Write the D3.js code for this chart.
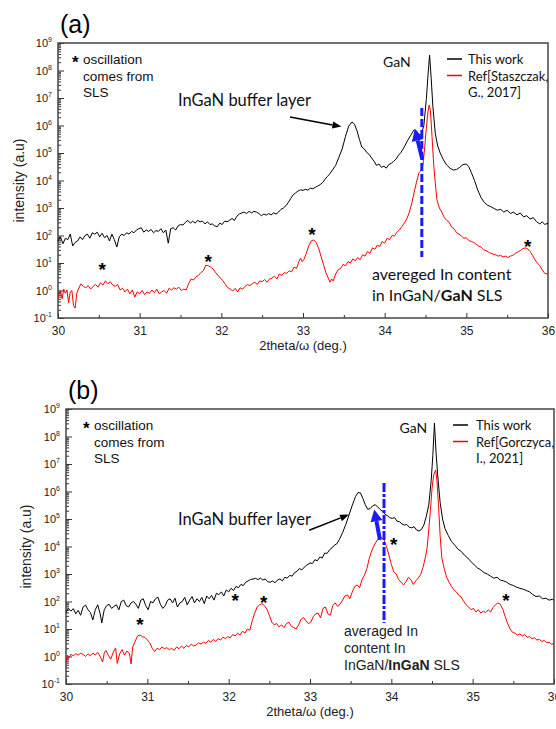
<!DOCTYPE html>
<html>
<head>
<meta charset="utf-8">
<script src="https://cdn.jsdelivr.net/npm/d3@7"></script>
<style>
  body { margin: 0; background: #fff; }
  text { font-family: "Liberation Sans", Arial, sans-serif; }
  .cal { font-family: Lato, "Open Sans", sans-serif; }
</style>
</head>
<body>
<div id="chart"></div>
<script>
// values are [2theta (deg), log10(intensity)]
var workA = [[30.00,1.80],[30.03,1.95],[30.06,1.70],[30.09,1.90],[30.12,1.85],[30.15,2.05],[30.18,1.62],[30.21,1.75],[30.24,1.80],[30.27,1.95],[30.30,1.85],[30.33,2.00],[30.36,2.05],[30.39,1.90],[30.42,2.10],[30.45,2.05],[30.48,2.12],[30.51,1.95],[30.54,2.08],[30.57,1.92],[30.60,2.00],[30.63,1.80],[30.66,2.05],[30.69,1.85],[30.72,1.58],[30.75,1.95],[30.78,2.05],[30.81,2.00],[30.84,2.10],[30.87,2.05],[30.90,2.15],[30.93,2.10],[30.96,2.20],[30.99,2.25],[31.02,2.28],[31.05,2.12],[31.08,2.20],[31.11,2.15],[31.14,2.22],[31.17,2.10],[31.20,2.18],[31.23,2.15],[31.26,2.25],[31.29,2.10],[31.32,2.20],[31.35,1.72],[31.38,2.25],[31.41,2.28],[31.44,2.20],[31.47,2.35],[31.50,2.40],[31.53,2.38],[31.56,2.48],[31.59,2.55],[31.62,2.45],[31.65,2.52],[31.68,2.45],[31.71,2.55],[31.74,2.50],[31.77,2.52],[31.80,2.42],[31.83,2.50],[31.86,2.40],[31.89,2.42],[31.92,2.35],[31.95,2.32],[31.98,2.45],[32.01,2.40],[32.04,2.52],[32.07,2.50],[32.10,2.55],[32.13,2.62],[32.16,2.55],[32.19,2.70],[32.22,2.78],[32.25,2.82],[32.28,2.85],[32.31,2.80],[32.34,2.88],[32.37,2.82],[32.40,2.88],[32.43,2.85],[32.46,2.80],[32.49,2.72],[32.52,2.78],[32.55,2.74],[32.58,2.80],[32.61,2.75],[32.64,2.82],[32.67,2.78],[32.70,2.85],[32.73,2.95],[32.76,3.00],[32.79,3.08],[32.82,3.20],[32.85,3.35],[32.88,3.48],[32.91,3.55],[32.94,3.62],[32.97,3.66],[33.00,3.64],[33.03,3.68],[33.06,3.65],[33.09,3.72],[33.12,3.70],[33.15,3.75],[33.18,3.80],[33.21,3.85],[33.24,3.92],[33.27,4.05],[33.30,4.15],[33.33,4.25],[33.36,4.38],[33.40,4.55],[33.44,4.85],[33.48,5.15],[33.52,5.60],[33.56,5.98],[33.60,6.13],[33.63,6.05],[33.66,5.82],[33.69,5.50],[33.72,5.22],[33.75,5.15],[33.78,5.02],[33.81,4.95],[33.84,4.82],[33.87,4.70],[33.90,4.55],[33.93,4.60],[33.96,4.48],[33.99,4.52],[34.02,4.45],[34.05,4.58],[34.08,4.62],[34.11,4.70],[34.14,4.78],[34.17,4.92],[34.20,5.02],[34.24,5.22],[34.28,5.45],[34.32,5.65],[34.36,5.84],[34.39,5.80],[34.42,5.65],[34.45,5.70],[34.48,6.00],[34.51,6.95],[34.53,7.80],[34.55,8.56],[34.57,7.70],[34.59,6.70],[34.62,5.70],[34.65,5.25],[34.68,5.00],[34.72,4.75],[34.76,4.56],[34.80,4.45],[34.84,4.38],[34.88,4.40],[34.92,4.48],[34.96,4.58],[35.00,4.60],[35.03,4.50],[35.06,4.30],[35.10,4.00],[35.14,3.65],[35.18,3.38],[35.22,3.20],[35.26,3.10],[35.30,3.05],[35.34,2.98],[35.38,2.92],[35.42,2.95],[35.46,2.85],[35.50,2.92],[35.54,2.80],[35.58,2.85],[35.62,2.75],[35.66,2.82],[35.70,2.68],[35.74,2.72],[35.78,2.60],[35.82,2.65],[35.86,2.50],[35.90,2.42],[35.93,2.50],[35.96,2.40],[36.00,2.45]];

var refA = [[30.00,-0.25],[30.03,0.00],[30.05,-0.30],[30.07,0.05],[30.09,-0.10],[30.11,0.02],[30.13,-0.45],[30.15,-0.05],[30.17,0.00],[30.19,-0.55],[30.21,-0.64],[30.23,-0.10],[30.25,0.05],[30.28,0.24],[30.31,0.15],[30.34,0.10],[30.37,0.18],[30.40,0.05],[30.43,0.15],[30.46,0.22],[30.49,0.12],[30.52,0.28],[30.55,0.20],[30.58,0.35],[30.61,0.25],[30.64,0.32],[30.67,0.20],[30.70,0.15],[30.73,0.22],[30.76,0.02],[30.79,0.08],[30.82,-0.05],[30.85,0.05],[30.88,-0.12],[30.91,0.02],[30.94,-0.24],[30.97,-0.05],[31.00,-0.12],[31.03,0.00],[31.06,-0.15],[31.09,-0.05],[31.12,-0.10],[31.15,0.02],[31.18,-0.08],[31.21,0.05],[31.24,-0.12],[31.27,-0.05],[31.30,0.00],[31.33,-0.10],[31.36,0.08],[31.39,0.02],[31.42,0.10],[31.45,0.05],[31.48,0.12],[31.51,0.00],[31.54,0.05],[31.57,0.02],[31.60,0.25],[31.63,0.42],[31.66,0.38],[31.69,0.50],[31.72,0.55],[31.75,0.65],[31.78,0.72],[31.81,0.92],[31.84,0.90],[31.87,0.85],[31.90,0.78],[31.93,0.65],[31.96,0.55],[31.99,0.45],[32.02,0.35],[32.05,0.22],[32.08,0.10],[32.11,0.05],[32.14,-0.02],[32.17,0.08],[32.20,-0.05],[32.23,0.10],[32.26,0.05],[32.29,0.15],[32.32,0.22],[32.35,0.18],[32.38,0.25],[32.41,0.30],[32.44,0.22],[32.47,0.35],[32.50,0.32],[32.53,0.40],[32.56,0.30],[32.59,0.42],[32.62,0.45],[32.65,0.52],[32.68,0.42],[32.71,0.60],[32.74,0.55],[32.77,0.65],[32.80,0.62],[32.83,0.72],[32.86,0.68],[32.89,0.85],[32.92,0.80],[32.95,1.05],[32.97,1.18],[32.99,1.05],[33.01,1.12],[33.04,1.35],[33.07,1.62],[33.10,1.80],[33.13,1.84],[33.16,1.75],[33.19,1.55],[33.22,1.25],[33.25,0.95],[33.28,0.65],[33.31,0.45],[33.33,0.30],[33.35,0.42],[33.37,0.35],[33.40,0.60],[33.43,0.75],[33.46,0.80],[33.49,0.95],[33.52,0.90],[33.55,1.05],[33.58,1.00],[33.61,1.15],[33.64,1.08],[33.67,1.20],[33.70,1.12],[33.73,1.30],[33.76,1.25],[33.79,1.42],[33.82,1.35],[33.85,1.55],[33.88,1.50],[33.91,1.65],[33.94,1.60],[33.97,1.78],[34.00,1.72],[34.03,1.90],[34.06,1.85],[34.09,2.00],[34.12,1.98],[34.15,2.12],[34.18,2.20],[34.21,2.32],[34.24,2.45],[34.27,2.60],[34.30,2.82],[34.33,3.15],[34.36,3.55],[34.39,3.95],[34.42,4.28],[34.45,4.38],[34.47,4.60],[34.49,5.20],[34.51,5.90],[34.53,6.50],[34.545,6.75],[34.56,6.55],[34.58,5.60],[34.60,4.60],[34.62,3.90],[34.64,3.30],[34.67,3.00],[34.70,2.85],[34.73,2.65],[34.76,2.55],[34.79,2.48],[34.82,2.30],[34.85,2.25],[34.88,2.10],[34.91,2.05],[34.94,1.98],[34.97,1.90],[35.00,1.92],[35.03,1.82],[35.06,1.78],[35.09,1.75],[35.12,1.68],[35.15,1.62],[35.18,1.58],[35.21,1.48],[35.24,1.45],[35.27,1.40],[35.30,1.35],[35.33,1.32],[35.36,1.30],[35.39,1.25],[35.42,1.28],[35.45,1.22],[35.48,1.25],[35.51,1.20],[35.54,1.25],[35.57,1.28],[35.60,1.35],[35.63,1.40],[35.66,1.45],[35.69,1.52],[35.72,1.55],[35.75,1.52],[35.78,1.42],[35.81,1.28],[35.84,1.12],[35.87,1.00],[35.90,0.90],[35.93,0.75],[35.96,0.62],[36.00,0.60]];

var workB = [[30.00,1.60],[30.03,1.75],[30.06,1.65],[30.09,1.74],[30.12,1.55],[30.15,1.68],[30.18,1.50],[30.21,1.80],[30.24,1.87],[30.27,1.70],[30.30,1.60],[30.33,1.33],[30.36,1.70],[30.39,1.88],[30.42,1.55],[30.44,1.22],[30.47,1.70],[30.50,1.85],[30.53,1.90],[30.56,1.75],[30.59,1.82],[30.62,1.88],[30.65,1.70],[30.68,2.00],[30.71,2.05],[30.74,1.85],[30.77,1.80],[30.80,1.95],[30.83,2.00],[30.86,1.90],[30.89,1.75],[30.92,2.05],[30.95,2.10],[30.98,1.85],[31.01,1.70],[31.04,2.00],[31.07,1.95],[31.10,2.10],[31.13,2.16],[31.16,1.90],[31.19,1.75],[31.22,1.85],[31.25,2.05],[31.28,2.10],[31.31,1.95],[31.34,2.12],[31.37,1.80],[31.40,1.95],[31.43,2.00],[31.46,2.15],[31.49,1.88],[31.52,2.05],[31.55,2.18],[31.58,1.95],[31.61,2.10],[31.64,2.00],[31.67,2.15],[31.70,1.92],[31.73,2.20],[31.76,2.10],[31.79,2.22],[31.82,2.05],[31.85,2.30],[31.88,2.25],[31.91,2.35],[31.94,2.20],[31.97,2.42],[32.00,2.35],[32.03,2.48],[32.06,2.40],[32.09,2.55],[32.12,2.50],[32.15,2.62],[32.18,2.58],[32.21,2.70],[32.24,2.75],[32.27,2.80],[32.30,2.82],[32.33,2.84],[32.36,2.80],[32.39,2.85],[32.42,2.78],[32.45,2.82],[32.48,2.72],[32.51,2.70],[32.54,2.75],[32.57,2.68],[32.60,2.78],[32.63,2.82],[32.66,2.75],[32.69,2.88],[32.72,2.85],[32.75,2.95],[32.78,2.92],[32.81,3.05],[32.84,3.10],[32.87,3.20],[32.90,3.15],[32.93,3.25],[32.96,3.32],[33.00,3.40],[33.03,3.38],[33.06,3.52],[33.09,3.48],[33.12,3.62],[33.15,3.58],[33.18,3.76],[33.21,3.75],[33.24,3.88],[33.27,3.95],[33.30,4.05],[33.33,4.10],[33.36,4.25],[33.40,4.50],[33.44,4.80],[33.48,5.15],[33.52,5.50],[33.56,5.82],[33.59,5.96],[33.62,5.95],[33.65,5.75],[33.68,5.52],[33.71,5.35],[33.74,5.38],[33.77,5.48],[33.80,5.52],[33.83,5.45],[33.86,5.35],[33.89,5.28],[33.92,5.18],[33.95,5.12],[33.98,5.05],[34.01,5.02],[34.04,5.05],[34.07,4.92],[34.10,4.90],[34.13,4.82],[34.16,4.78],[34.19,4.80],[34.22,4.70],[34.25,4.68],[34.28,4.72],[34.31,4.60],[34.34,4.56],[34.37,4.62],[34.40,4.78],[34.43,5.10],[34.46,5.50],[34.49,6.40],[34.51,7.30],[34.53,8.49],[34.55,7.40],[34.57,6.60],[34.60,5.60],[34.63,5.00],[34.66,4.65],[34.70,4.40],[34.74,4.18],[34.78,4.05],[34.82,3.90],[34.86,3.82],[34.90,3.68],[34.94,3.58],[34.98,3.45],[35.02,3.33],[35.06,3.22],[35.10,3.15],[35.14,3.05],[35.18,3.00],[35.22,2.92],[35.26,2.85],[35.30,2.88],[35.34,2.78],[35.38,2.75],[35.42,2.70],[35.46,2.62],[35.50,2.58],[35.54,2.52],[35.58,2.48],[35.62,2.45],[35.66,2.40],[35.70,2.35],[35.74,2.25],[35.78,2.18],[35.82,2.20],[35.86,2.10],[35.90,2.12],[35.94,2.05],[35.98,2.08],[36.00,2.05]];

var refB = [[30.00,-0.20],[30.02,0.05],[30.04,-0.05],[30.06,0.08],[30.09,0.02],[30.12,0.10],[30.15,0.05],[30.18,0.12],[30.21,0.08],[30.24,0.00],[30.27,0.10],[30.30,0.02],[30.33,0.12],[30.36,0.05],[30.39,0.15],[30.42,0.00],[30.45,-0.20],[30.47,0.12],[30.49,0.22],[30.52,0.05],[30.55,-0.10],[30.58,0.15],[30.61,0.31],[30.63,-0.25],[30.66,0.10],[30.69,0.25],[30.72,0.05],[30.75,0.20],[30.78,0.10],[30.80,-0.27],[30.82,0.35],[30.85,0.55],[30.88,0.75],[30.91,0.78],[30.94,0.72],[30.97,0.70],[31.00,0.60],[31.03,0.50],[31.06,0.30],[31.09,0.18],[31.12,0.30],[31.15,0.25],[31.18,0.35],[31.21,0.28],[31.24,0.32],[31.27,0.25],[31.30,0.30],[31.33,0.22],[31.36,0.35],[31.39,0.28],[31.42,0.38],[31.45,0.30],[31.48,0.40],[31.51,0.35],[31.54,0.45],[31.57,0.38],[31.60,0.42],[31.63,0.50],[31.66,0.45],[31.69,0.52],[31.72,0.48],[31.75,0.58],[31.78,0.52],[31.81,0.62],[31.84,0.55],[31.87,0.65],[31.90,0.60],[31.93,0.70],[31.96,0.65],[31.99,0.72],[32.02,0.68],[32.05,0.80],[32.08,0.75],[32.11,0.85],[32.14,0.78],[32.17,0.92],[32.20,0.85],[32.23,1.00],[32.26,0.95],[32.29,1.30],[32.32,1.58],[32.35,1.80],[32.38,1.88],[32.41,1.92],[32.44,1.85],[32.47,1.72],[32.50,1.50],[32.53,1.25],[32.56,1.15],[32.59,1.20],[32.62,1.08],[32.65,1.15],[32.68,1.05],[32.71,1.20],[32.74,1.25],[32.77,1.10],[32.80,1.05],[32.83,1.00],[32.86,1.15],[32.89,1.35],[32.92,1.42],[32.95,1.30],[32.98,1.20],[33.01,1.25],[33.04,1.45],[33.07,1.55],[33.10,1.58],[33.13,1.40],[33.16,1.75],[33.19,1.80],[33.22,1.55],[33.25,1.50],[33.28,1.85],[33.31,1.95],[33.34,1.82],[33.37,1.90],[33.40,2.05],[33.43,2.20],[33.46,2.24],[33.49,2.10],[33.52,2.35],[33.55,2.55],[33.58,2.60],[33.61,2.50],[33.64,2.80],[33.67,2.96],[33.70,3.20],[33.73,3.58],[33.76,3.85],[33.79,4.05],[33.82,4.20],[33.85,4.31],[33.88,4.32],[33.91,4.25],[33.94,4.00],[33.97,3.69],[34.00,3.35],[34.03,3.08],[34.06,3.00],[34.09,2.80],[34.12,2.70],[34.15,2.60],[34.18,2.72],[34.21,2.88],[34.24,2.80],[34.27,2.62],[34.30,2.75],[34.33,2.85],[34.36,2.98],[34.39,3.25],[34.42,3.62],[34.44,3.95],[34.46,4.60],[34.48,5.30],[34.50,6.10],[34.52,6.60],[34.545,6.78],[34.56,6.40],[34.58,5.50],[34.60,4.40],[34.62,3.60],[34.65,3.20],[34.68,2.88],[34.71,2.70],[34.74,2.55],[34.77,2.42],[34.80,2.35],[34.83,2.22],[34.86,2.16],[34.89,2.00],[34.92,1.88],[34.95,1.80],[34.98,1.70],[35.01,1.75],[35.04,1.62],[35.07,1.70],[35.10,1.58],[35.13,1.65],[35.16,1.60],[35.19,1.70],[35.22,1.62],[35.25,1.78],[35.28,1.88],[35.31,1.95],[35.34,1.90],[35.37,1.72],[35.40,1.45],[35.43,1.20],[35.46,1.00],[35.49,0.88],[35.52,0.85],[35.55,0.78],[35.58,0.82],[35.61,0.75],[35.64,0.80],[35.67,0.70],[35.70,0.72],[35.73,0.65],[35.76,0.68],[35.79,0.60],[35.82,0.62],[35.85,0.55],[35.88,0.58],[35.91,0.50],[35.94,0.52],[35.97,0.45],[36.00,0.47]];

// star marks (SLS oscillation), [2theta, log10 I]
var starsA = [[30.54,0.89],[31.84,1.18],[33.11,2.16],[35.75,1.73]];
var starsB = [[30.91,1.29],[32.08,2.16],[32.43,2.09],[34.03,4.20],[35.41,2.16]];

var xTicks = [30, 31, 32, 33, 34, 35, 36];
var yExps = [-1, 0, 1, 2, 3, 4, 5, 6, 7, 8, 9];

var svg = d3.select('#chart')
  .append('svg')
  .attr('width', 556)
  .attr('height', 729)

function drawPanel(p){
  var g = svg.append('g')
  var x = d3.scaleLinear().domain([30, 36]).range([p.left, p.right])
  var y = d3.scaleLog().domain([0.1, 1e9]).range([p.bottom, p.top])

  // minor ticks
  var minorY = []
  for (var e = -1; e < 9; e++) for (var m = 2; m < 10; m++) minorY.push(m * Math.pow(10, e))
  g.append('g').attr('transform', 'translate(' + p.left + ',0)')
    .call(d3.axisLeft(y).tickValues(minorY).tickSize(-3).tickFormat(''))
    .call(function(a){ a.select('.domain').remove(); a.selectAll('line').attr('stroke', '#333') })
  g.append('g').attr('transform', 'translate(0,' + p.bottom + ')')
    .call(d3.axisBottom(x).tickValues(d3.range(30.5, 36, 1)).tickSize(-3).tickFormat(''))
    .call(function(a){ a.select('.domain').remove(); a.selectAll('line').attr('stroke', '#333') })

  var yAxis = g.append('g').attr('transform', 'translate(' + p.left + ',0)')
    .call(d3.axisLeft(y).tickValues(yExps.map(function(e){ return Math.pow(10, e) }))
      .tickSizeInner(-6).tickSizeOuter(0).tickPadding(6))
  yAxis.select('.domain').remove()
  yAxis.selectAll('line').attr('stroke', '#333')
  yAxis.selectAll('text').each(function(d){
    var t = d3.select(this).text('')
      .attr('font-size', 11).attr('fill', '#222').attr('font-family', '"Liberation Sans", Arial')
    t.append('tspan').text('10')
    t.append('tspan').text(Math.round(Math.log10(d))).attr('font-size', 7).attr('dy', -5)
  })

  var xAxis = g.append('g').attr('transform', 'translate(0,' + p.bottom + ')')
    .call(d3.axisBottom(x).tickValues(xTicks).tickFormat(d3.format('d'))
      .tickSizeInner(-5).tickSizeOuter(0).tickPadding(8))
  xAxis.select('.domain').remove()
  xAxis.selectAll('line').attr('stroke', '#333')
  xAxis.selectAll('text').attr('font-size', 12).attr('fill', '#222')

  g.append('rect')
    .attr('x', p.left).attr('y', p.top)
    .attr('width', p.right - p.left).attr('height', p.bottom - p.top)
    .attr('fill', 'none').attr('stroke', '#444').attr('stroke-width', 1.5)

  var line = d3.line()
    .x(function(d){ return x(d[0]) })
    .y(function(d){ return y(Math.pow(10, d[1])) })

  g.append('path').datum(p.ref).attr('d', line)
    .attr('fill', 'none').attr('stroke', '#ff0000').attr('stroke-width', 1)
  g.append('path').datum(p.work).attr('d', line)
    .attr('fill', 'none').attr('stroke', '#000').attr('stroke-width', 1)

  // axis titles
  g.append('text').attr('x', (p.left + p.right) / 2).attr('y', p.bottom + 32)
    .attr('text-anchor', 'middle').attr('font-size', 13).attr('fill', '#222')
    .text('2theta/\u03c9 (deg.)')
  g.append('text')
    .attr('transform', 'translate(' + p.ytx + ',' + ((p.top + p.bottom) / 2) + ') rotate(-90)')
    .attr('text-anchor', 'middle').attr('font-size', 14).attr('fill', '#222')
    .text('intensity (a.u)')

  // panel label
  g.append('text').attr('x', p.left + 2).attr('y', p.top - 10)
    .attr('font-family', '"Liberation Serif", "Times New Roman", serif')
    .attr('font-size', 25).attr('fill', '#000').text(p.label)

  // stars
  g.selectAll('.star').data(p.stars).enter().append('text')
    .attr('class', 'star')
    .attr('x', function(d){ return x(d[0]) })
    .attr('y', function(d){ return y(Math.pow(10, d[1])) + 10 })
    .attr('text-anchor', 'middle').attr('font-size', 19).attr('font-weight', 'bold')
    .text('*')

  // note
  var nx = p.left + p.noteDx
  g.append('text').attr('x', nx).attr('y', p.top + 25)
    .attr('font-size', 17).attr('font-weight', 'bold').text('*')
  ;['oscillation', 'comes from', 'SLS'].forEach(function(s, i){
    g.append('text').attr('x', nx + 11).attr('y', p.top + 21 + i * 16.5)
      .attr('font-size', 13.5).attr('fill', '#111').text(s)
  })

  // legend
  var lx = p.legX
  g.append('line').attr('x1', lx).attr('x2', lx + 15).attr('y1', p.legY).attr('y2', p.legY)
    .attr('stroke', '#000').attr('stroke-width', 1.5)
  g.append('line').attr('x1', lx).attr('x2', lx + 15).attr('y1', p.legY + 16.5).attr('y2', p.legY + 16.5)
    .attr('stroke', '#ff0000').attr('stroke-width', 1.5)
  p.legText.forEach(function(s, i){
    g.append('text').attr('class', 'cal').attr('x', lx + p.legGap).attr('y', p.legY + 5 + i * 16.5)
      .attr('font-size', 13).attr('fill', '#111').text(s)
  })

  // GaN label
  g.append('text').attr('class', 'cal').attr('x', x(p.ganX)).attr('y', p.ganY)
    .attr('font-size', 14).attr('fill', '#111').text('GaN')

  // buffer layer label + arrow
  g.append('text').attr('class', 'cal').attr('x', p.bufX).attr('y', p.bufY)
    .attr('font-size', 16.5).attr('fill', '#111').text('InGaN buffer layer')
  drawArrow(g, x(p.bufArrow[0][0]), y(Math.pow(10, p.bufArrow[0][1])),
    x(p.bufArrow[1][0]), y(Math.pow(10, p.bufArrow[1][1])), '#000', 1.5, 9, 3.5)

  // blue dashed line
  g.append('line')
    .attr('x1', x(p.dash[0])).attr('x2', x(p.dash[0]))
    .attr('y1', y(Math.pow(10, p.dash[1]))).attr('y2', y(Math.pow(10, p.dash[2])))
    .attr('stroke', '#1a1aff').attr('stroke-width', 3).attr('stroke-dasharray', p.dashArr)
  drawArrow(g, x(p.blueArrow[0][0]), y(Math.pow(10, p.blueArrow[0][1])),
    x(p.blueArrow[1][0]), y(Math.pow(10, p.blueArrow[1][1])), '#1a1aff', 4, 12, 6)

  return {x: x, y: y, g: g}
}

function drawArrow(g, x1, y1, x2, y2, color, w, hl, hw){
  var dx = x2 - x1, dy = y2 - y1, len = Math.sqrt(dx * dx + dy * dy)
  var ux = dx / len, uy = dy / len
  var bx = x2 - ux * hl, by = y2 - uy * hl
  g.append('line').attr('x1', x1).attr('y1', y1).attr('x2', bx).attr('y2', by)
    .attr('stroke', color).attr('stroke-width', w)
  g.append('path')
    .attr('d', 'M' + x2 + ',' + y2 + 'L' + (bx - uy * hw) + ',' + (by + ux * hw) +
      'L' + (bx + uy * hw) + ',' + (by - ux * hw) + 'Z')
    .attr('fill', color)
}

var pa = drawPanel({
  label: '(a)', left: 58, right: 548, top: 43, bottom: 318, ytx: 24,
  work: workA, ref: refA, stars: starsA, noteDx: 14,
  legX: 447, legY: 59, legGap: 21, legText: ['This work', 'Ref[Staszczak,', 'G., 2017]'],
  ganX: 33.98, ganY: 67,
  bufX: 178, bufY: 106, bufArrow: [[32.84, 6.31], [33.47, 5.96]],
  dash: [34.455, 6.64, 1.22], dashArr: '8,3',
  blueArrow: [[34.46, 4.78], [34.37, 5.88]]
})
pa.g.append('text').attr('class', 'cal').attr('x', 372).attr('y', 280)
  .attr('font-size', 16).attr('fill', '#111').text('avereged In content')
var t2 = pa.g.append('text').attr('class', 'cal').attr('x', 372).attr('y', 301)
  .attr('font-size', 16).attr('fill', '#111')
t2.append('tspan').text('in InGaN/')
t2.append('tspan').attr('font-weight', 'bold').text('GaN')
t2.append('tspan').text(' SLS')

var pb = drawPanel({
  label: '(b)', left: 66, right: 554, top: 409, bottom: 684, ytx: 31,
  work: workB, ref: refB, stars: starsB, noteDx: 17,
  legX: 453, legY: 425, legGap: 23, legText: ['This work', 'Ref[Gorczyca,', 'I., 2021]'],
  ganX: 34.1, ganY: 433,
  bufX: 178, bufY: 525, bufArrow: [[32.99, 4.59], [33.48, 5.16]],
  dash: [33.91, 6.31, 1.22], dashArr: '9,2,3,2',
  blueArrow: [[33.86, 4.24], [33.79, 5.35]]
})
;['averaged In', 'content In'].forEach(function(s, i){
  pb.g.append('text').attr('x', 344).attr('y', 636 + i * 17)
    .attr('font-size', 14).attr('fill', '#222').text(s)
})
var t3 = pb.g.append('text').attr('x', 344).attr('y', 670)
  .attr('font-size', 14).attr('fill', '#222')
t3.append('tspan').text('InGaN/')
t3.append('tspan').attr('font-weight', 'bold').text('InGaN')
t3.append('tspan').text(' SLS')
</script>
</body>
</html>
